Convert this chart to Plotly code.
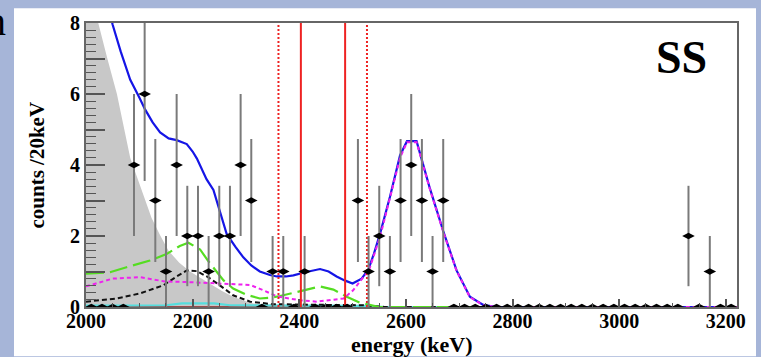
import math
import plotly.graph_objects as go

# ---------------- data ----------------
bin_centers = [2010 + 20 * i for i in range(61)]
counts = [0, 0, 0, 0, 4, 6, 3, 1, 4, 2, 2, 1, 2, 2, 4, 3, 0, 1, 1, 0,
          1, 0, 0, 0, 0, 3, 1, 2, 1, 3, 4, 3, 1, 3,
          0, 0, 0, 0, 0, 0, 0, 0, 0, 0, 0, 0, 0, 0, 0, 0, 0, 0, 0, 0, 0, 0,
          2, 0, 1, 0, 0]
count_err = [math.sqrt(c) for c in counts]

# shaded (gray) background component
gray_e = [2000, 2023, 2040, 2058, 2083, 2101, 2123, 2139, 2155, 2175, 2195, 2215, 2233, 2255, 2276, 2295, 2314, 2340, 2370]
gray_v = [9.8, 8.0, 7.0, 6.0, 4.2, 3.44, 2.51, 2.02, 1.58, 1.25, 1.0, 0.82, 0.66, 0.45, 0.29, 0.18, 0.1, 0.04, 0.0]

# total fit (blue)
blue_e = [2030, 2050, 2065, 2083, 2100, 2111, 2125, 2139, 2155, 2170, 2189, 2200, 2208, 2226, 2239, 2250, 2264,
          2280, 2295, 2310, 2326, 2345, 2358, 2375, 2389, 2411, 2439, 2455, 2470, 2485, 2500, 2517, 2530,
          2540, 2552, 2570, 2589, 2602, 2620, 2645, 2670, 2695, 2720, 2745, 2770, 3221]
blue_v = [9.2, 7.95, 7.2, 6.4, 5.9, 5.56, 5.2, 4.92, 4.75, 4.70, 4.59, 4.38, 4.18, 3.6, 3.3, 2.75, 2.05,
          1.7, 1.4, 1.17, 1.0, 0.9, 0.86, 0.86, 0.89, 0.98, 1.07, 1.0, 0.86, 0.75, 0.66, 0.8, 1.07,
          1.5, 2.09, 3.1, 4.27, 4.67, 4.67, 3.34, 2.14, 1.03, 0.29, 0.06, 0.0, 0.0]

# magenta (dotted)
mag_e = [2000, 2050, 2101, 2148, 2195, 2251, 2308, 2333, 2358, 2401, 2433, 2483, 2501, 2520, 2530,
         2552, 2570, 2589, 2602, 2620, 2645, 2670, 2695, 2720, 2745, 2770, 3221]
mag_v = [0.58, 0.8, 0.84, 0.72, 0.70, 0.66, 0.62, 0.47, 0.3, 0.19, 0.15, 0.24, 0.47, 0.84, 1.0,
         2.0, 3.05, 4.2, 4.64, 4.64, 3.32, 2.12, 1.02, 0.28, 0.05, 0.0, 0.0]

# green (long dash)
green_e = [2000, 2045, 2076, 2120, 2151, 2176, 2192, 2214, 2229, 2245, 2258, 2276, 2300, 2326, 2345,
           2364, 2395, 2439, 2464, 2489, 2514, 2533, 2550, 3221]
green_v = [0.94, 0.98, 1.12, 1.31, 1.49, 1.72, 1.81, 1.62, 1.3, 0.98, 0.75, 0.52, 0.35, 0.24, 0.26,
           0.31, 0.43, 0.58, 0.49, 0.29, 0.12, 0.05, 0.0, 0.0]

# black (dashed)
black_e = [2000, 2058, 2101, 2145, 2170, 2189, 2208, 2229, 2251, 2276, 2308, 2350, 2450, 2520, 2560, 3221]
black_v = [0.15, 0.24, 0.38, 0.61, 0.86, 1.03, 1.01, 0.84, 0.61, 0.33, 0.15, 0.08, 0.06, 0.05, 0.0, 0.0]

# cyan
cyan_e = [2000, 2150, 2180, 2240, 2270, 2530, 2560, 3221]
cyan_v = [0.04, 0.05, 0.1, 0.1, 0.05, 0.03, 0.0, 0.0]

# baseline (dark red)
base_e = [2000, 3221]
base_v = [0.0, 0.0]

# ROI lines
roi_solid = [2403, 2486]
roi_dotted = [2361, 2527]

x_range = [2000, 3221]
y_range = [0, 8]
x_ticks = [2000, 2200, 2400, 2600, 2800, 3000, 3200]
y_ticks = [0, 1, 2, 3, 4, 5, 6, 7, 8]
y_ticktext = ["0", "", "2", "", "4", "", "6", "", "8"]

# ---------------- figure ----------------
W, H = 761, 357
L, R, T, B = 86, 24, 18, 50
PW, PH = W - L - R, H - T - B


def px(xp):
    return (xp - L) / PW


def py(yp):
    return (H - B - yp) / PH


FONT = "Liberation Serif, Times New Roman, serif"

fig = go.Figure()

fig.add_trace(go.Scatter(x=gray_e, y=gray_v, mode="lines", line=dict(width=0, color="#c8c8c8"),
                         fill="tozeroy", fillcolor="#c8c8c8", hoverinfo="skip"))
fig.add_trace(go.Scatter(x=base_e, y=base_v, mode="lines", line=dict(width=1.5, color="#8b2323")))
fig.add_trace(go.Scatter(x=cyan_e, y=cyan_v, mode="lines", line=dict(width=2.2, color="#55dddd")))
fig.add_trace(go.Scatter(x=black_e, y=black_v, mode="lines",
                         line=dict(width=2, color="#111111", dash="5px,3px")))
fig.add_trace(go.Scatter(x=green_e, y=green_v, mode="lines",
                         line=dict(width=2.2, color="#55dd22", dash="18px,6px")))
fig.add_trace(go.Scatter(x=blue_e, y=blue_v, mode="lines", line=dict(width=2.2, color="#1515e6")))
fig.add_trace(go.Scatter(x=mag_e, y=mag_v, mode="lines",
                         line=dict(width=2, color="#ee22ee", dash="4px,3px")))

for v in roi_solid:
    fig.add_trace(go.Scatter(x=[v, v], y=y_range, mode="lines", line=dict(width=2, color="#ee2222")))
for v in roi_dotted:
    fig.add_trace(go.Scatter(x=[v, v], y=y_range, mode="lines",
                             line=dict(width=2, color="#ee2222", dash="2px,2px")))

fig.add_trace(go.Scatter(x=bin_centers, y=counts, mode="markers",
                         marker=dict(symbol="diamond-wide", size=9, color="black"),
                         error_y=dict(type="data", array=count_err, visible=True,
                                      thickness=2, width=0, color="#7a7a7a"),
                         cliponaxis=True))

fig.update_layout(
    width=W, height=H,
    margin=dict(l=L, r=R, t=T, b=B, pad=0),
    paper_bgcolor="#a6b5d8",
    plot_bgcolor="white",
    showlegend=False,
    font=dict(family=FONT, color="black"),
    shapes=[dict(type="rect", xref="paper", yref="paper",
                 x0=px(14), x1=px(756), y0=py(357), y1=py(3),
                 fillcolor="white", line=dict(width=0), layer="below")],
    annotations=[
        dict(text="<b>SS</b>", xref="paper", yref="paper", x=px(681), y=py(53),
             xanchor="center", yanchor="middle", showarrow=False,
             font=dict(size=46, family=FONT, color="black")),
        dict(text="<b>counts /20keV</b>", xref="paper", yref="paper", x=px(37), y=py(163),
             xanchor="center", yanchor="middle", textangle=-90, showarrow=False,
             font=dict(size=21, family=FONT, color="black")),
        dict(text="<b>energy (keV)</b>", xref="paper", yref="paper", x=px(412), y=py(345),
             xanchor="center", yanchor="middle", showarrow=False,
             font=dict(size=22, family=FONT, color="black")),
        dict(text="n", xref="paper", yref="paper", x=px(8), y=py(16),
             xanchor="right", yanchor="middle", showarrow=False,
             font=dict(size=40, family=FONT, color="black")),
    ],
)

fig.update_xaxes(range=x_range, showgrid=False, zeroline=False,
                 showline=True, mirror=True, linecolor="#666666", linewidth=2,
                 tickmode="array", tickvals=x_ticks, ticks="inside", ticklen=8, tickwidth=1.5,
                 tickcolor="#555555", ticklabelstandoff=-5,
                 tickfont=dict(size=20, family=FONT, color="black", weight="bold"),
                 minor=dict(dtick=50, ticks="inside", ticklen=4, tickwidth=1, tickcolor="#555555"))
fig.update_yaxes(range=y_range, showgrid=False, zeroline=False,
                 showline=True, mirror=True, linecolor="#666666", linewidth=2,
                 tickmode="array", tickvals=y_ticks, ticktext=y_ticktext,
                 ticks="inside", ticklen=19, tickwidth=1.5, tickcolor="#555555",
                 tickfont=dict(size=20, family=FONT, color="black", weight="bold"),
                 minor=dict(dtick=0.2, ticks="inside", ticklen=10, tickwidth=1.2, tickcolor="#555555"))

fig.write_html("out.html", config={"displayModeBar": False},
               post_script="document.body.style.margin='0';document.body.style.overflow='hidden';")
